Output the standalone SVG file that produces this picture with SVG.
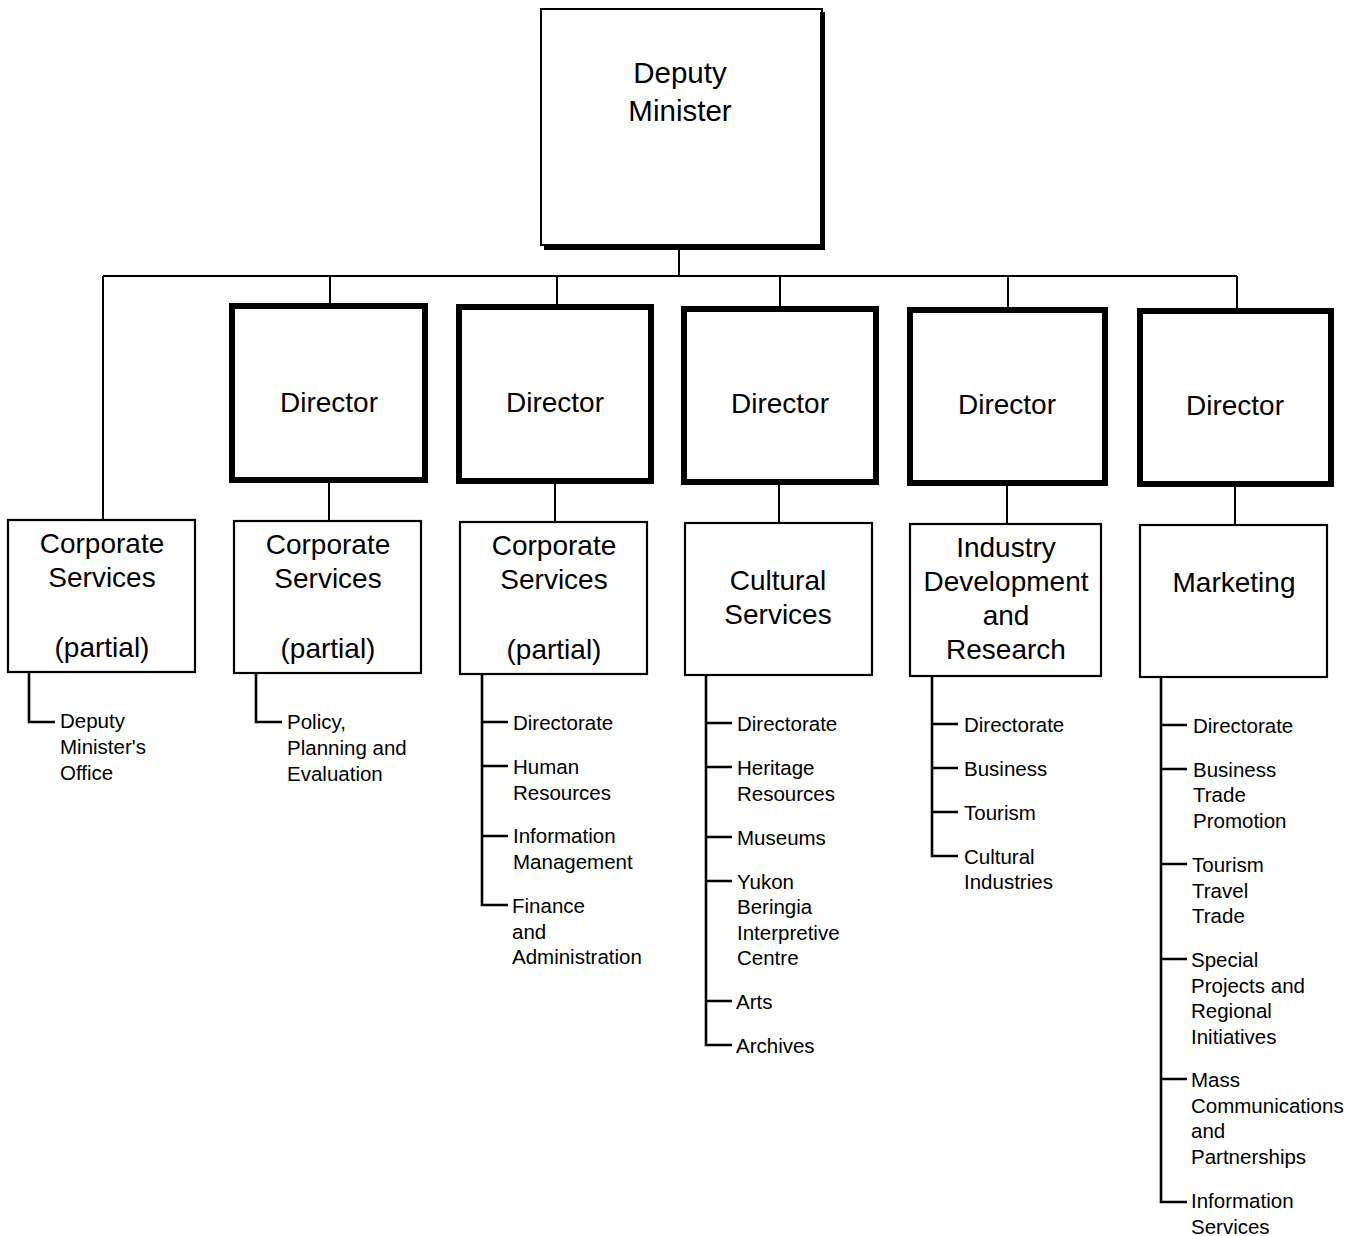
<svg xmlns="http://www.w3.org/2000/svg" width="1362" height="1236" viewBox="0 0 1362 1236">
<style>
.box{fill:#fff;stroke:#000;stroke-width:2.2}
.dir{fill:#fff;stroke:#000;stroke-width:6}
.c{fill:none;stroke:#000;stroke-width:2}
.leaf{fill:none;stroke:#000;stroke-width:2.6}
.t{font-family:"Liberation Sans",Arial,sans-serif;font-size:28px;fill:#000;text-anchor:middle}
.s{font-family:"Liberation Sans",Arial,sans-serif;font-size:20.5px;fill:#000}
</style>
<rect width="1362" height="1236" fill="#fff"/>
<g id="connectors">
<path class="c" d="M679,246V276M103,276H1237M103,276V520M330,276V305M557,276V306M780,276V308M1008,276V309M1237,276V310"/>
<path class="c" d="M329,483V521M555,484V522M779,485V523M1007,486V524M1235,487V525"/>
<path class="leaf" d="M29,672V722H55"/>
<path class="leaf" d="M256,673V722H282"/>
<path class="leaf" d="M482,674V905H508M482,722H508M482,766H508M482,836H508"/>
<path class="leaf" d="M706,675V1045H732M706,723H732M706,767H732M706,837H732M706,881H732M706,1001H732"/>
<path class="leaf" d="M932,676V856H958M932,724H958M932,768H958M932,812H958"/>
<path class="leaf" d="M1161,677V1202H1187M1161,725H1187M1161,769H1187M1161,864H1187M1161,959H1187M1161,1079H1187"/>
</g>
<g id="deputy-minister">
<rect x="541" y="9" width="281" height="236" fill="#fff" stroke="#000" stroke-width="2"/>
<path d="M822.5,12V247.5H544" fill="none" stroke="#000" stroke-width="5"/>
<text class="t" x="680" y="83" style="font-size:29.5px">Deputy</text>
<text class="t" x="680" y="121" style="font-size:29.5px">Minister</text>
</g>
<g id="director-1"><rect class="dir" x="232" y="306" width="193" height="174"/><text class="t" x="329" y="412">Director</text></g>
<g id="director-2"><rect class="dir" x="459" y="307" width="192" height="174"/><text class="t" x="555" y="412">Director</text></g>
<g id="director-3"><rect class="dir" x="684" y="309" width="192" height="173"/><text class="t" x="780" y="413">Director</text></g>
<g id="director-4"><rect class="dir" x="910" y="310" width="195" height="173"/><text class="t" x="1007" y="414">Director</text></g>
<g id="director-5"><rect class="dir" x="1140" y="311" width="191" height="173"/><text class="t" x="1235" y="415">Director</text></g>
<g id="corporate-services-1"><rect class="box" x="8" y="520" width="187" height="152"/>
<text class="t" x="102" y="553">Corporate</text><text class="t" x="102" y="587">Services</text><text class="t" x="102" y="657">(partial)</text></g>
<g id="corporate-services-2"><rect class="box" x="234" y="521" width="187" height="152"/>
<text class="t" x="328" y="554">Corporate</text><text class="t" x="328" y="588">Services</text><text class="t" x="328" y="658">(partial)</text></g>
<g id="corporate-services-3"><rect class="box" x="460" y="522" width="187" height="152"/>
<text class="t" x="554" y="555">Corporate</text><text class="t" x="554" y="589">Services</text><text class="t" x="554" y="659">(partial)</text></g>
<g id="cultural-services"><rect class="box" x="685" y="523" width="187" height="152"/>
<text class="t" x="778" y="590">Cultural</text><text class="t" x="778" y="624">Services</text></g>
<g id="industry-development"><rect class="box" x="910" y="524" width="191" height="152"/>
<text class="t" x="1006" y="557">Industry</text><text class="t" x="1006" y="591">Development</text><text class="t" x="1006" y="625">and</text><text class="t" x="1006" y="659">Research</text></g>
<g id="marketing"><rect class="box" x="1140" y="525" width="187" height="152"/>
<text class="t" x="1234" y="592">Marketing</text></g>
<g id="leaves-cs1"><text class="s" x="60" y="728">Deputy</text><text class="s" x="60" y="754">Minister's</text><text class="s" x="60" y="780">Office</text></g>
<g id="leaves-cs2"><text class="s" x="287" y="729">Policy,</text><text class="s" x="287" y="755">Planning and</text><text class="s" x="287" y="781">Evaluation</text></g>
<g id="leaves-cs3">
<text class="s" x="513" y="730">Directorate</text>
<text class="s" x="513" y="774">Human</text><text class="s" x="513" y="800">Resources</text>
<text class="s" x="513" y="843">Information</text><text class="s" x="513" y="869">Management</text>
<text class="s" x="512" y="913">Finance</text><text class="s" x="512" y="939">and</text><text class="s" x="512" y="964">Administration</text>
</g>
<g id="leaves-cultural">
<text class="s" x="737" y="731">Directorate</text>
<text class="s" x="737" y="775">Heritage</text><text class="s" x="737" y="801">Resources</text>
<text class="s" x="737" y="845">Museums</text>
<text class="s" x="737" y="889">Yukon</text><text class="s" x="737" y="914">Beringia</text><text class="s" x="737" y="940">Interpretive</text><text class="s" x="737" y="965">Centre</text>
<text class="s" x="736" y="1009">Arts</text>
<text class="s" x="736" y="1053">Archives</text>
</g>
<g id="leaves-industry">
<text class="s" x="964" y="732">Directorate</text>
<text class="s" x="964" y="776">Business</text>
<text class="s" x="964" y="820">Tourism</text>
<text class="s" x="964" y="864">Cultural</text><text class="s" x="964" y="889">Industries</text>
</g>
<g id="leaves-marketing">
<text class="s" x="1193" y="733">Directorate</text>
<text class="s" x="1193" y="777">Business</text><text class="s" x="1193" y="802">Trade</text><text class="s" x="1193" y="828">Promotion</text>
<text class="s" x="1192" y="872">Tourism</text><text class="s" x="1192" y="898">Travel</text><text class="s" x="1192" y="923">Trade</text>
<text class="s" x="1191" y="967">Special</text><text class="s" x="1191" y="993">Projects and</text><text class="s" x="1191" y="1018">Regional</text><text class="s" x="1191" y="1044">Initiatives</text>
<text class="s" x="1191" y="1087">Mass</text><text class="s" x="1191" y="1113">Communications</text><text class="s" x="1191" y="1138">and</text><text class="s" x="1191" y="1164">Partnerships</text>
<text class="s" x="1191" y="1208">Information</text><text class="s" x="1191" y="1234">Services</text>
</g>
</svg>
